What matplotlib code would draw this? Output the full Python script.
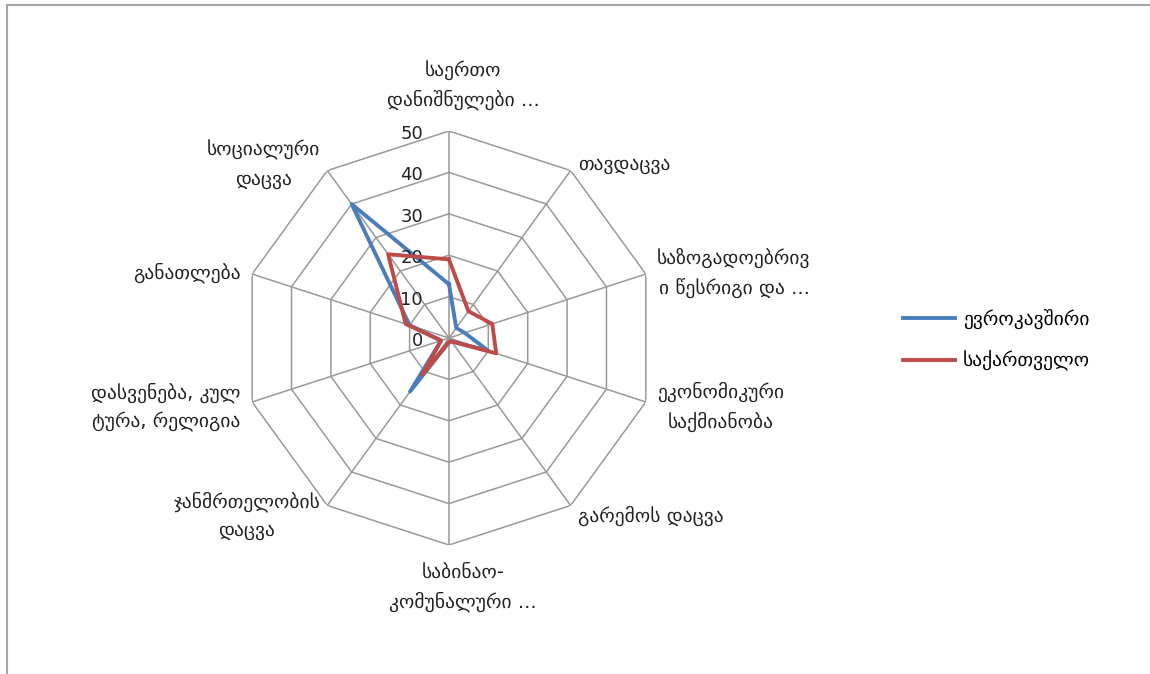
import matplotlib.pyplot as plt
import numpy as np
from matplotlib.lines import Line2D

plt.rcParams['font.family'] = ['DejaVu Sans']

# კატეგორიები (საათის ისრის მიმართულებით, ზემოდან)
categories = [
    'საერთო\nდანიშნულები ...',
    'თავდაცვა',
    'საზოგადოებრივ\nი წესრიგი და ...',
    'ეკონომიკური\nსაქმიანობა',
    'გარემოს დაცვა',
    'საბინაო-\nკომუნალური ...',
    'ჯანმრთელობის\nდაცვა',
    'დასვენება, კულ\nტურა, რელიგია',
    'განათლება',
    'სოციალური\nდაცვა',
]
eu_values = [13, 3, 4, 10, 1, 1, 16, 2, 10, 40]
ge_values = [19, 8, 11, 12, 1, 1, 11, 2, 11, 25]
series_names = ['ევროკავშირი', 'საქართველო']
r_ticks = [0, 10, 20, 30, 40, 50]

fig = plt.figure(figsize=(11.5, 6.74), dpi=100)
ax = fig.add_axes([0.2104, 0.1914, 0.36, 0.6142], projection='polar')
ax.set_theta_zero_location('N')
ax.set_theta_direction(-1)
ax.set_ylim(0, 50)
ax.set_xticks([])
ax.set_yticks([])
ax.grid(False)
ax.spines['polar'].set_visible(False)

n = len(categories)
angles = np.linspace(0, 2 * np.pi, n, endpoint=False)
closed = np.append(angles, angles[0])

# დეკაგონური ბადე
for r in r_ticks[1:]:
    ax.plot(closed, [r] * (n + 1), color='#999999', lw=1.1, zorder=1)
for a in angles:
    ax.plot([a, a], [0, 50], color='#999999', lw=1.1, zorder=1)

ax.plot(closed, eu_values + eu_values[:1], color='#4a7ebb', lw=2.8, zorder=3, label=series_names[0])
ax.plot(closed, ge_values + ge_values[:1], color='#be4b48', lw=2.8, zorder=4, label=series_names[1])

# რადიალური ნიშნულები
for r in r_ticks:
    ax.annotate(str(r), xy=(0, r), xytext=(-26, -3), textcoords='offset pixels',
                ha='right', va='center', fontsize=13, color='#222222')

# კატეგორიების წარწერები
for a, lab in zip(angles, categories):
    s, c = np.sin(a), np.cos(a)
    if abs(s) < 0.1:
        ha = 'center'
        va = 'bottom' if c > 0 else 'top'
        dx, dy = 14, (21 if c > 0 else -18)
    else:
        ha = 'left' if s > 0 else 'right'
        va = 'center'
        dx, dy = 12 * s, 10 * c - 2
    ax.annotate(lab, xy=(a, 50), xytext=(dx, dy), textcoords='offset pixels',
                ha=ha, va=va, multialignment='center', fontsize=14,
                color='#222222', linespacing=1.6, annotation_clip=False)

fig.legend(loc='center left', bbox_to_anchor=(0.785, 0.4955), frameon=False,
           fontsize=14, handlelength=2.7, handletextpad=0.4, labelspacing=1.15,
           borderpad=0, borderaxespad=0)

# ჩარჩო (ზედა და მარცხენა)
fig.add_artist(Line2D([7 / 1150, 7 / 1150], [0, 1 - 5 / 674], color='#a6a6a6', lw=1.5,
                      transform=fig.transFigure))
fig.add_artist(Line2D([7 / 1150, 1], [1 - 5 / 674, 1 - 5 / 674], color='#a6a6a6', lw=1.5,
                      transform=fig.transFigure))

plt.savefig('out.png')
plt.close()
